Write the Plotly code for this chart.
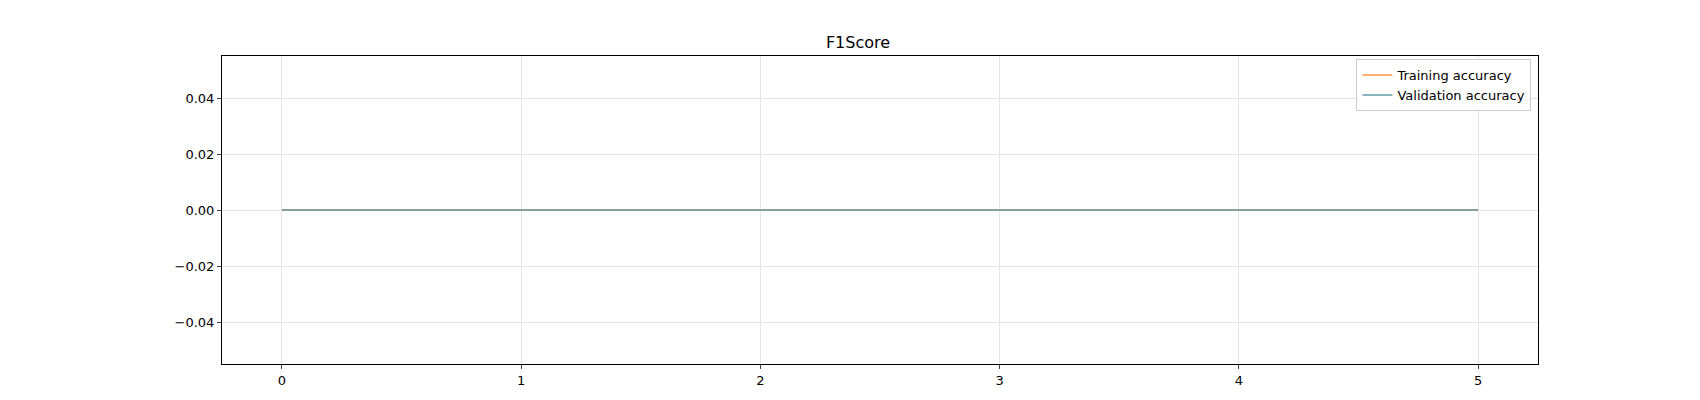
import plotly.graph_objects as go

epochs = [0, 1, 2, 3, 4, 5]
train_f1 = [0, 0, 0, 0, 0, 0]
val_f1 = [0, 0, 0, 0, 0, 0]

fig = go.Figure()
fig.add_trace(go.Scatter(x=epochs, y=train_f1, mode="lines", name="Training accuracy",
                         line=dict(color="#ff9640", width=1.6)))
fig.add_trace(go.Scatter(x=epochs, y=val_f1, mode="lines", name="Validation accuracy",
                         line=dict(color="#5f9ea8", width=1.6)))

axis = dict(showline=True, linecolor="black", mirror=True, ticks="outside", ticklen=4,
            gridcolor="#e5e5e5", zeroline=False, tickfont=dict(size=13, color="black"))
fig.update_layout(
    width=1700, height=400, plot_bgcolor="white", paper_bgcolor="white",
    font=dict(family="DejaVu Sans", color="black"),
    title=dict(text="F1Score", x=0.5, xanchor="center", y=0.915, yanchor="middle",
               font=dict(size=16)),
    margin=dict(l=214, r=170, t=48, b=44),
    xaxis=dict(range=[-0.25, 5.25], tickvals=epochs, **axis),
    yaxis=dict(range=[-0.055, 0.055], tickvals=[-0.04, -0.02, 0, 0.02, 0.04],
               ticktext=["\u22120.04", "\u22120.02", "0.00", "0.02", "0.04"], **axis),
    legend=dict(x=0.995, y=0.99, xanchor="right", yanchor="top", bordercolor="#cccccc",
                borderwidth=1, bgcolor="white", font=dict(size=13)),
)
fig.write_html("out.html")
